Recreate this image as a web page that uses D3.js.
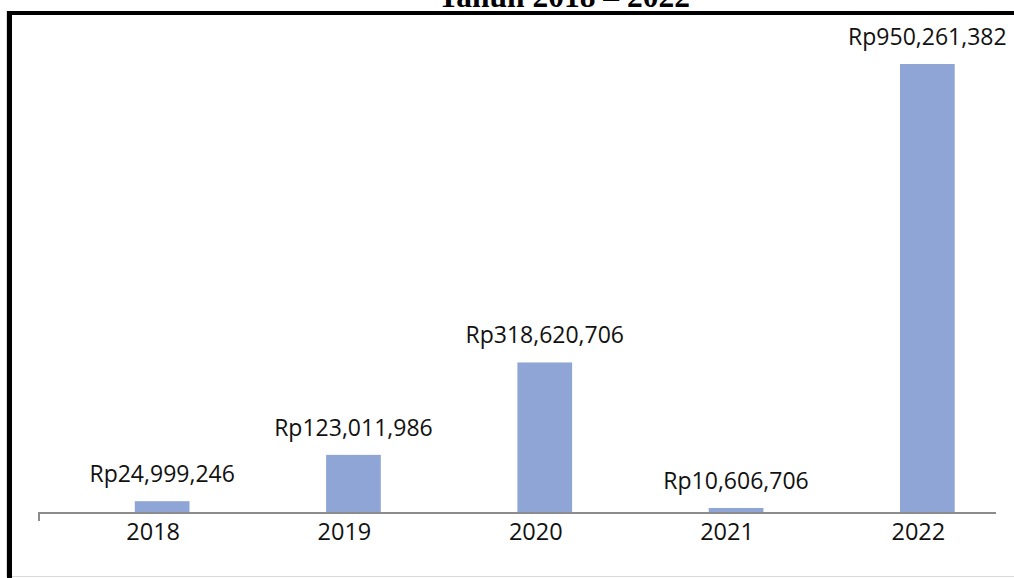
<!DOCTYPE html>
<html>
<head>
<meta charset="utf-8">
<script src="https://cdn.jsdelivr.net/npm/d3@7"></script>
<style>
  html, body { margin: 0; padding: 0; background: #fff; }
  svg { display: block; }
</style>
</head>
<body>
<div class="chart"></div>
<script>
// data
const years = ["2018", "2019", "2020", "2021", "2022"];
const values = [24999246, 123011986, 318620706, 10606706, 950261382];
const title = "Tahun 2018 – 2022";

const svgwidth = 1014, svgheight = 578;
const baseY = 513;

const svg = d3.select(".chart")
  .append("svg")
  .attr("width", svgwidth)
  .attr("height", svgheight);

// frame: thick black on left/top, light grey elsewhere
svg.append("rect")
  .attr("x", 6.5).attr("y", 11.5)
  .attr("width", 1014).attr("height", 565)
  .attr("fill", "none").attr("stroke", "#d9d9d9").attr("stroke-width", 1);
svg.append("rect").attr("x", 7).attr("y", 11).attr("width", 5).attr("height", 567).attr("fill", "#000");
svg.append("rect").attr("x", 7).attr("y", 11).attr("width", 1007).attr("height", 4).attr("fill", "#000");

// title, cut off at the top (as in the original)
svg.append("text")
  .attr("x", 564).attr("y", 7)
  .attr("text-anchor", "middle")
  .attr("font-family", "'Liberation Serif', 'Times New Roman', serif")
  .attr("font-weight", "bold")
  .attr("font-size", "31.5px")
  .attr("fill", "#000")
  .text(title);

// scales
const x = d3.scaleBand()
  .domain(years)
  .range([66.5, 1023])
  .paddingInner(0.714)
  .paddingOuter(0.357);

const y = d3.scaleLinear()
  .domain([0, 1000000000])
  .range([baseY, 40.5]);

// bars
svg.selectAll(".bar")
  .data(values)
  .enter()
  .append("rect")
    .attr("class", "bar")
    .attr("x", (d, i) => x(years[i]))
    .attr("y", d => y(d))
    .attr("width", x.bandwidth())
    .attr("height", d => y(0) - y(d))
    .attr("fill", "#8fa5d6");

// axis line with the single left tick
svg.append("path")
  .attr("d", "M39," + (baseY + 8) + "V" + baseY + "H996")
  .attr("fill", "none")
  .attr("stroke", "#8c8c8c")
  .attr("stroke-width", 2);

// value labels
const fmt = d3.format(",");
svg.selectAll(".val")
  .data(values)
  .enter()
  .append("text")
    .attr("class", "val")
    .attr("x", (d, i) => x(years[i]) + x.bandwidth() / 2)
    .attr("y", d => y(d) - 19)
    .attr("text-anchor", "middle")
    .attr("font-family", "'Open Sans', 'Noto Sans', sans-serif")
    .attr("font-size", "23px")
    .attr("fill", "#111")
    .text(d => "Rp" + fmt(d));

// year labels
svg.selectAll(".year")
  .data(years)
  .enter()
  .append("text")
    .attr("class", "year")
    .attr("x", d => x(d) + x.bandwidth() / 2 - 9)
    .attr("y", 540)
    .attr("text-anchor", "middle")
    .attr("font-family", "'Open Sans', 'Noto Sans', sans-serif")
    .attr("font-size", "23.5px")
    .attr("fill", "#111")
    .text(d => d);
</script>
</body>
</html>
